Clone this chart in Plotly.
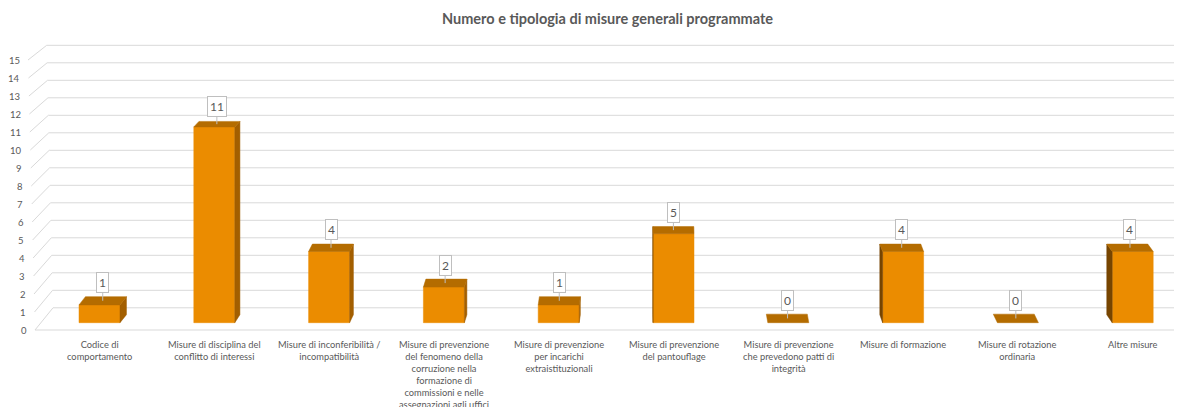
import plotly.graph_objects as go

# ---------------- data ----------------
title = "Numero e tipologia di misure generali programmate"
categories = [
    "Codice di<br>comportamento",
    "Misure di disciplina del<br>conflitto di interessi",
    "Misure di inconferibilità /<br>incompatibilità",
    "Misure di prevenzione<br>del fenomeno della<br>corruzione nella<br>formazione di<br>commissioni e nelle<br>assegnazioni agli uffici",
    "Misure di prevenzione<br>per incarichi<br>extraistituzionali",
    "Misure di prevenzione<br>del pantouflage",
    "Misure di prevenzione<br>che prevedono patti di<br>integrità",
    "Misure di formazione",
    "Misure di rotazione<br>ordinaria",
    "Altre misure",
]
values = [1, 11, 4, 2, 1, 5, 0, 4, 0, 4]
y_ticks = list(range(0, 16))

# ---------------- styles / geometry (page pixels) ----------------
PAGE_W, PAGE_H = 1182, 407
OFF = 8                          # default body margin of the html page
FW, FH = PAGE_W - OFF, PAGE_H - OFF
X0, DXC = 99.5, 114.8            # first category centre, category spacing
BAR_W = 41.0
Y0_FRONT, S_FRONT = 322.7, 17.8  # bar plane: zero and px per unit
Y0_BACK, S_BACK = 307.8, 17.5    # back wall
Y0_AX, S_AX = 330.0, 18.0        # front edge of side wall (tick labels)
VP_X, K_SIDE = 660.0, 0.0115     # perspective for side faces
FRONT_C, TOP_C, RSIDE_C, LSIDE_C = "#EB8C00", "#B46C00", "#A35F00", "#774500"
GRID_C, TEXT_C = "#D9D9D9", "#595959"
FONT = "Lato"


def dx(px):
    return px / DXC


def dy(py):
    return py / S_FRONT


def to_x(px):
    return (px - X0) / DXC


def to_y(py):
    return (Y0_FRONT - py) / S_FRONT


fig = go.Figure()

# ---------------- walls / gridlines ----------------
gx, gy = [], []
for v in y_ticks:
    xf, yf = 35 - 7 * v / 15, Y0_AX - S_AX * v
    xb, yb = 53 - 6.3 * v / 15, Y0_BACK - S_BACK * v
    gx += [to_x(xf), to_x(xb), to_x(PAGE_W + 5), None]
    gy += [to_y(yf), to_y(yb), to_y(yb), None]
gx += [to_x(35), to_x(PAGE_W + 5), None]
gy += [to_y(Y0_AX), to_y(Y0_AX), None]
fig.add_trace(go.Scatter(x=gx, y=gy, mode="lines", line=dict(color=GRID_C, width=1),
                         hoverinfo="skip", showlegend=False))

# ---------------- bars ----------------
hw = dx(BAR_W / 2)
fx, fy, tx, ty, rx, ry, lx, ly = [], [], [], [], [], [], [], []
label_pos = []
for i, v in enumerate(values):
    front_top_px = Y0_FRONT - S_FRONT * v
    depth = dy(0.0157 * (front_top_px + 222))
    sh = dx(K_SIDE * (VP_X - (X0 + DXC * i)))
    xl, xr = i - hw, i + hw
    if v > 0:
        fx += [xl, xr, xr, xl, xl, None]
        fy += [0, 0, v, v, 0, None]
    tx += [xl, xr, xr + sh, xl + sh, xl, None]
    ty += [v, v, v + depth, v + depth, v, None]
    if v > 0:
        if sh > 0:
            rx += [xr, xr + sh, xr + sh, xr, xr, None]
            ry += [0, dy(8), v + depth, v, 0, None]
        elif sh < 0:
            lx += [xl, xl + sh, xl + sh, xl, xl, None]
            ly += [0, dy(8), v + depth, v, 0, None]
    label_pos.append((i + sh / 2, v + depth / 2))

for xs, ys, c in [(fx, fy, FRONT_C), (rx, ry, RSIDE_C), (lx, ly, LSIDE_C), (tx, ty, TOP_C)]:
    fig.add_trace(go.Scatter(x=xs, y=ys, mode="lines", fill="toself", fillcolor=c,
                             line=dict(color=c, width=0.5), hoverinfo="skip", showlegend=False))

# ---------------- data labels ----------------
for (lxp, lyp), v in zip(label_pos, values):
    fig.add_annotation(x=lxp, y=lyp, text=str(v), showarrow=True, ax=0, ay=-18,
                       arrowhead=0, arrowwidth=1, arrowcolor="#BFBFBF",
                       bgcolor="white", bordercolor="#BFBFBF", borderwidth=1, borderpad=2,
                       font=dict(family=FONT, size=12, color=TEXT_C))

# ---------------- tick labels ----------------
for v in y_ticks:
    fig.add_annotation(x=to_x(35 - 7 * v / 15 - 6.5), y=to_y(Y0_AX - S_AX * v), text=str(v),
                       showarrow=False, xanchor="right", yanchor="middle",
                       font=dict(family=FONT, size=9.5, color=TEXT_C))

for i, c in enumerate(categories):
    fig.add_annotation(x=i, y=to_y(337), text=c, showarrow=False, xanchor="center",
                       yanchor="top", align="center",
                       font=dict(family=FONT, size=9.3, color=TEXT_C))

# ---------------- title ----------------
fig.add_annotation(xref="paper", yref="paper", x=(607.5 - OFF) / FW, y=1 - (18 - OFF) / FH,
                   text=title, showarrow=False, xanchor="center", yanchor="middle",
                   font=dict(family=FONT, size=14.5, color=TEXT_C, weight="bold"))

fig.update_layout(
    width=FW, height=FH, margin=dict(l=0, r=0, t=0, b=0),
    paper_bgcolor="white", plot_bgcolor="white",
    xaxis=dict(range=[to_x(OFF), to_x(OFF + FW)], visible=False, fixedrange=True),
    yaxis=dict(range=[to_y(OFF + FH), to_y(OFF)], visible=False, fixedrange=True),
    showlegend=False,
)

fig.write_html("out.html")
